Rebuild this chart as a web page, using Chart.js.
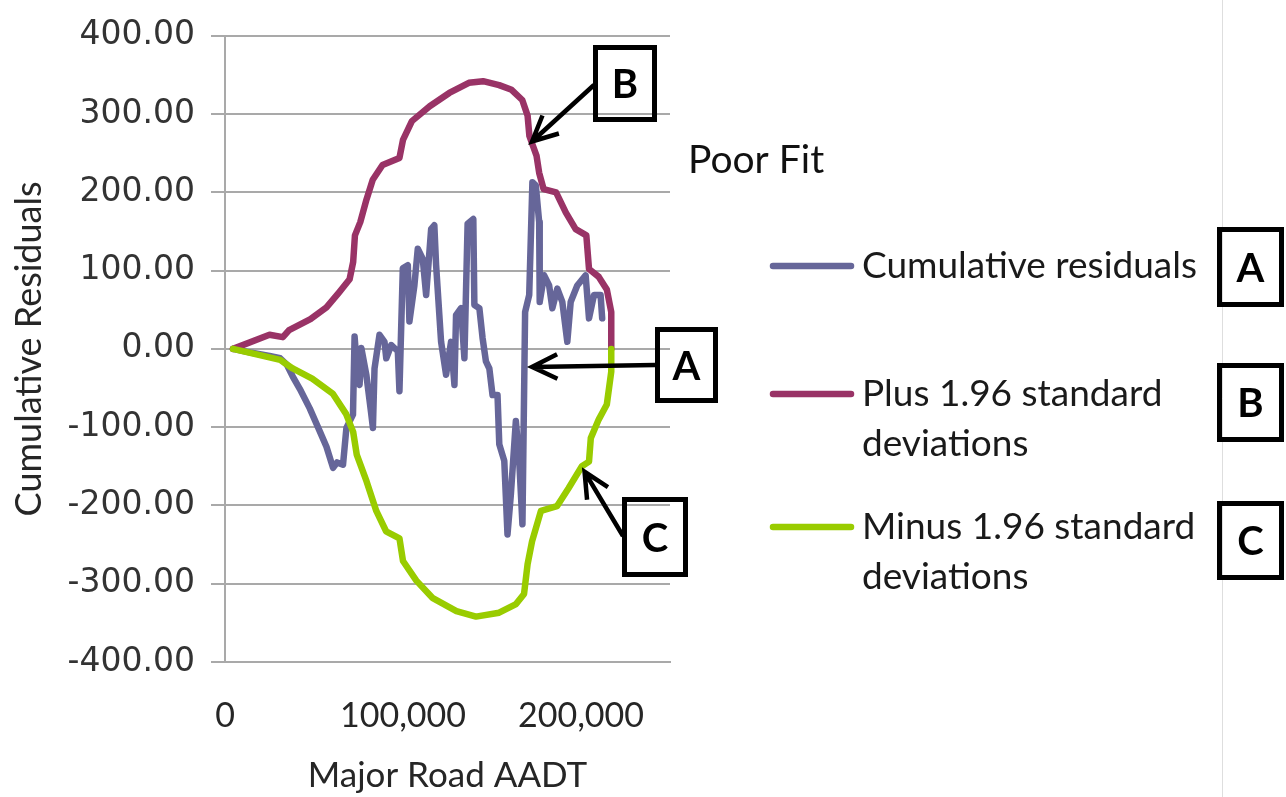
<!DOCTYPE html>
<html>
<head>
<meta charset="utf-8">
<script src="https://cdn.jsdelivr.net/npm/chart.js@4"></script>
<style>
  html, body { margin: 0; padding: 0; background: #fff; }
  canvas { display: block; }
</style>
</head>
<body>
<canvas id="grafico" width="1286" height="797"></canvas>
<script>
// Cumulative residuals (CURE plot) vs Major Road AADT
const residX = [4500, 15000, 25000, 31000, 34700, 38000, 42000, 47600, 53200, 57000, 60700, 63000, 66300, 68200, 71900,
  72800, 74000, 75600, 76600, 79400, 82000, 83100, 84000, 86800, 89600, 90600, 93400, 97100, 98000, 99900,
  102700, 103600, 106400, 108300, 111100, 113000, 115800, 117600, 118600, 121400, 124200, 127000, 128900, 129800,
  132600, 134500, 136300, 139500, 140100, 142900, 144700, 146600, 148500, 150300, 153100, 154100, 156900, 158700,
  160600, 163400, 165300, 167100, 168600, 170900, 172700, 174600, 176500, 176800, 179300, 182100, 183900, 186700,
  189500, 192300, 194200, 197900, 202600, 204500, 207300, 211000, 211900];
const residY = [0, -5, -9, -12, -20, -35, -51, -76, -105, -125, -152, -145, -148, -101, -84,
  16, -20, -46, 1, -33, -80, -101, -25, 18, 9, -12, 5, -3, -54, 103,
  107, 35, 81, 128, 115, 69, 153, 158, 107, 9, -33, 9, -46, 43,
  52, -12, 160, 166, 56, 52, 14, -16, -25, -59, -59, -122, -143, -237,
  -186, -92, -143, -224, 47, 69, 213, 209, 162, 60, 94, 81, 52, 77,
  60, 9, 60, 81, 94, 39, 69, 69, 39];

const plusX = [4500, 25000, 32500, 36000, 48000, 57000, 64000, 70000, 72000, 73000, 76000, 79500, 83000, 88500,
  98000, 100000, 105000, 115000, 126000, 137000, 145000, 154000, 161000, 167000, 170000, 171000, 175000, 176500,
  179000, 186000, 191500, 197000, 203000, 204500, 210000, 214500, 217000, 217000];
const plusY = [0, 18, 15, 24, 38, 53, 72, 89, 111, 145, 162, 191, 216, 235,
  244, 267, 291, 310, 327, 340, 342, 337, 331, 318, 298, 272, 247, 225,
  204, 200, 174, 153, 145, 102, 92, 76, 47, 0];

const minusX = [4500, 31000, 38000, 49000, 60500, 68000, 72000, 74000, 79500, 85000, 90500, 98000, 100000, 107500,
  116500, 130000, 141000, 154000, 163500, 168000, 170000, 172500, 177500, 186500, 193000, 200500, 204500, 205500,
  210000, 214500, 217000, 217000];
const minusY = [0, -14, -25, -38, -57, -83, -106, -135, -169, -207, -233, -242, -271, -296,
  -318, -335, -342, -337, -326, -313, -275, -246, -207, -201, -178, -150, -144, -114,
  -90, -71, -29, 0];

const xTicks = [0, 100000, 200000];
const etiquetas = ["Cumulative residuals", "Plus 1.96 standard deviations", "Minus 1.96 standard deviations"];
const colores = ["#666699", "#993366", "#99CC00"];

function puntos(xs, ys) {
  return xs.map((x, i) => ({ x: x, y: ys[i] }));
}

function flecha(ctx, x1, y1, x2, y2) {
  const ang = Math.atan2(y2 - y1, x2 - x1);
  const largo = 28, abre = 0.45;
  ctx.beginPath();
  ctx.moveTo(x1, y1);
  ctx.lineTo(x2, y2);
  ctx.moveTo(x2 - largo * Math.cos(ang - abre), y2 - largo * Math.sin(ang - abre));
  ctx.lineTo(x2, y2);
  ctx.lineTo(x2 - largo * Math.cos(ang + abre), y2 - largo * Math.sin(ang + abre));
  ctx.stroke();
}

function caja(ctx, x1, y1, x2, y2, letra) {
  ctx.lineWidth = 5;
  ctx.strokeStyle = "#000";
  ctx.strokeRect(x1 + 2.5, y1 + 2.5, x2 - x1 - 5, y2 - y1 - 5);
  ctx.font = "bold 40px Lato";
  ctx.fillStyle = "#000";
  ctx.textAlign = "center";
  ctx.textBaseline = "middle";
  ctx.fillText(letra, (x1 + x2) / 2, (y1 + y2) / 2 + 2);
}

const anotaciones = {
  id: "anotaciones",
  afterDraw(chart) {
    const ctx = chart.ctx;
    const sx = chart.scales.x, sy = chart.scales.y;
    ctx.save();

    // thin page edge line on the right
    ctx.strokeStyle = "#dedede";
    ctx.lineWidth = 1;
    ctx.beginPath();
    ctx.moveTo(1222.5, 0);
    ctx.lineTo(1222.5, 797);
    ctx.stroke();

    ctx.fillStyle = "#111";
    ctx.font = "39px Lato";
    ctx.textAlign = "left";
    ctx.textBaseline = "alphabetic";
    ctx.fillText("Poor Fit", 688, 173);

    // legend
    const filas = [
      { y: 266, lineas: ["Cumulative residuals"] },
      { y: 394, lineas: ["Plus 1.96 standard", "deviations"] },
      { y: 527, lineas: ["Minus 1.96 standard", "deviations"] }
    ];
    filas.forEach((f, i) => {
      ctx.strokeStyle = colores[i];
      ctx.lineWidth = 6.5;
      ctx.lineCap = "round";
      ctx.beginPath();
      ctx.moveTo(773, f.y);
      ctx.lineTo(851, f.y);
      ctx.stroke();
      ctx.fillStyle = "#1a1a1a";
      ctx.font = "37px Lato";
      ctx.textAlign = "left";
      ctx.textBaseline = "middle";
      f.lineas.forEach((t, j) => ctx.fillText(t, 862, f.y + j * 50));
    });

    // letter boxes
    caja(ctx, 1217, 227, 1284, 307, "A");
    caja(ctx, 1217, 363, 1284, 442, "B");
    caja(ctx, 1217, 501, 1284, 580, "C");
    caja(ctx, 593, 45, 657, 122, "B");
    caja(ctx, 655, 327, 718, 403, "A");
    caja(ctx, 622, 497, 688, 577, "C");

    // arrows pointing at the curves
    ctx.lineWidth = 4.5;
    ctx.lineCap = "butt";
    ctx.lineJoin = "miter";
    ctx.strokeStyle = "#000";
    flecha(ctx, 594, 85, sx.getPixelForValue(172500), sy.getPixelForValue(265));
    flecha(ctx, 655, 365, sx.getPixelForValue(172500), sy.getPixelForValue(-23));
    flecha(ctx, 623, 536, sx.getPixelForValue(202000), sy.getPixelForValue(-157));

    ctx.restore();
  }
};

const gris = "#a9a9a9";
const grosor = 6.5;

new Chart(document.getElementById("grafico").getContext("2d"), {
  type: "line",
  data: {
    datasets: [
      { label: etiquetas[0], data: puntos(residX, residY), borderColor: colores[0], borderWidth: grosor, order: 2 },
      { label: etiquetas[1], data: puntos(plusX, plusY), borderColor: colores[1], borderWidth: grosor, order: 1 },
      { label: etiquetas[2], data: puntos(minusX, minusY), borderColor: colores[2], borderWidth: grosor, order: 0 }
    ]
  },
  options: {
    responsive: false,
    animation: false,
    devicePixelRatio: 1,
    layout: { padding: { top: 33, right: 616, bottom: 0, left: 0 } },
    elements: {
      line: { tension: 0, borderJoinStyle: "round", borderCapStyle: "round", fill: false },
      point: { radius: 0, hoverRadius: 0 }
    },
    plugins: {
      legend: { display: false },
      tooltip: { enabled: false }
    },
    scales: {
      x: {
        type: "linear",
        min: 0,
        max: 250000,
        grid: { display: false, drawTicks: false },
        border: { display: true, color: gris, width: 2 },
        afterBuildTicks: s => { s.ticks = xTicks.map(v => ({ value: v })); },
        ticks: {
          autoSkip: false,
          maxRotation: 0,
          padding: 34,
          color: "#262626",
          font: { family: "Lato", size: 34 },
          callback: v => v.toLocaleString("en-US")
        },
        title: {
          display: true,
          text: "Major Road AADT",
          color: "#262626",
          font: { family: "Lato", size: 35 },
          padding: { top: 0, bottom: 0 }
        },
        afterFit: s => { s.height = 135; }
      },
      y: {
        min: -400,
        max: 400,
        grid: { color: gris, lineWidth: 2, tickLength: 14, tickColor: gris },
        border: { display: true, color: gris, width: 2 },
        ticks: {
          stepSize: 100,
          padding: 16,
          color: "#333",
          font: { family: "DejaVu Sans", size: 33 },
          callback: v => v.toFixed(2)
        },
        title: {
          display: true,
          text: "Cumulative Residuals",
          color: "#262626",
          font: { family: "Lato", size: 36 },
          padding: { top: 8, bottom: 0 }
        },
        afterFit: s => { s.width = 225; }
      }
    }
  },
  plugins: [anotaciones]
});
</script>
</body>
</html>
